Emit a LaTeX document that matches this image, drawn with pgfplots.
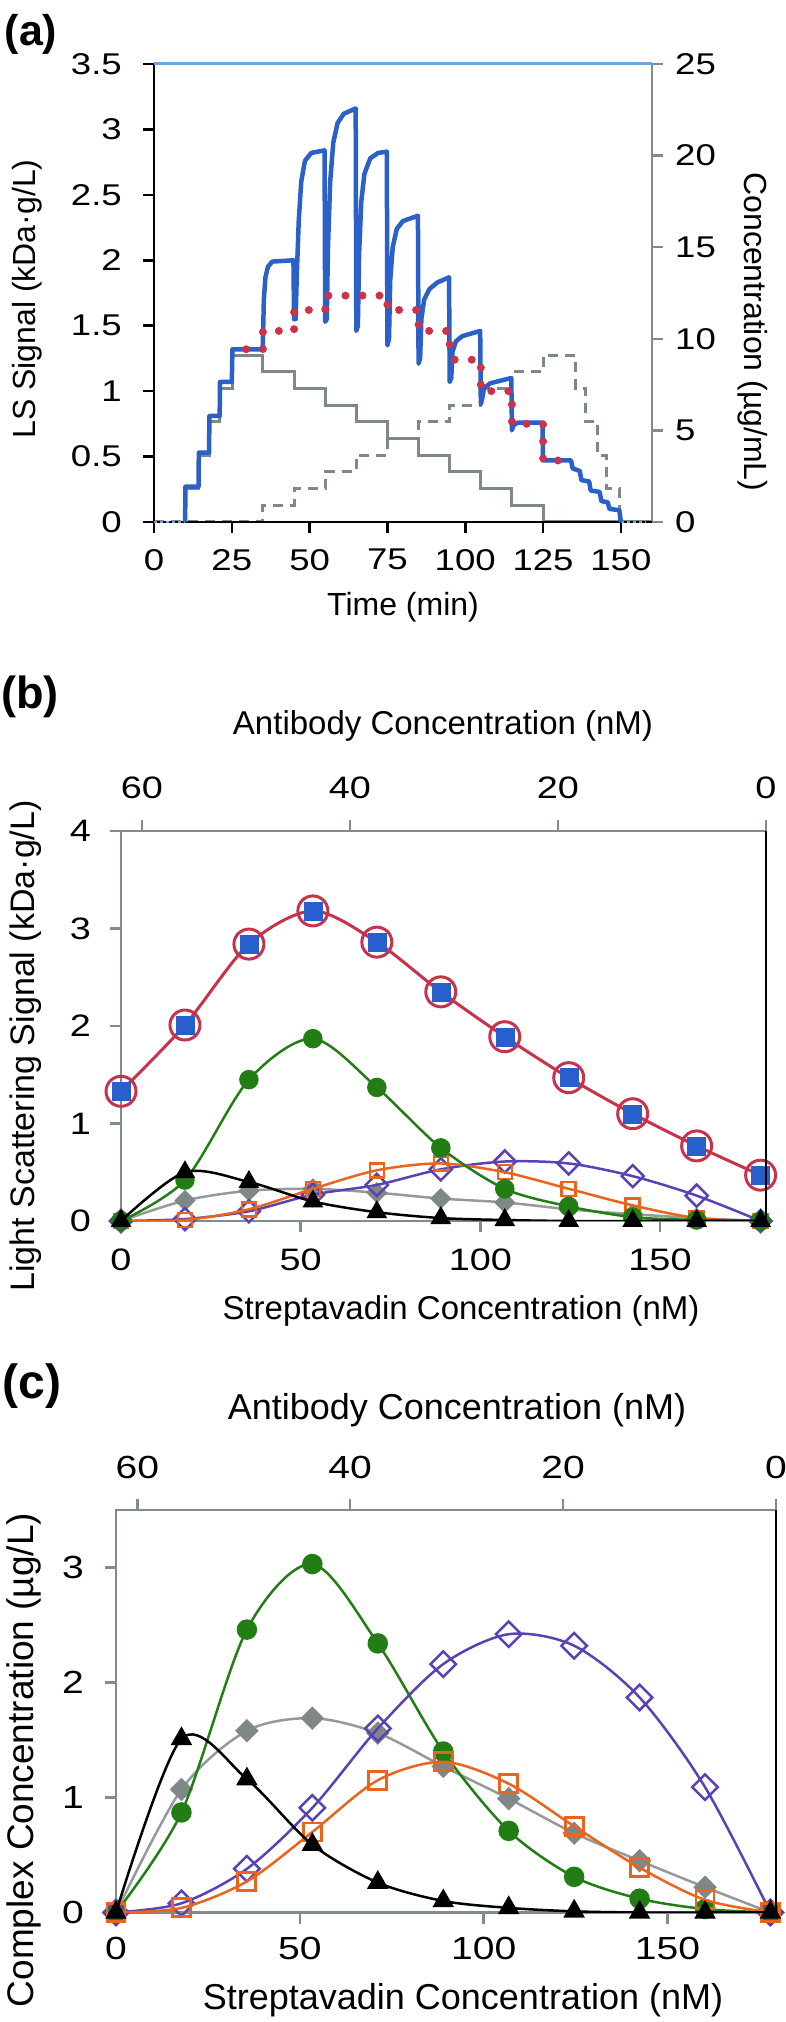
\documentclass[border=0pt]{standalone}
\usepackage{fontspec}
\setmainfont{Liberation Sans}
\newfontfamily\tickfont{Liberation Sans}[FakeStretch=1.22]
\usepackage{pgfplots}
\pgfplotsset{compat=1.18}
\definecolor{grayax}{RGB}{128,140,140}
\definecolor{grayln}{RGB}{125,137,137}
\definecolor{lsblue}{RGB}{42,96,200}
\definecolor{topblue}{RGB}{110,165,225}
\definecolor{dotred}{RGB}{205,50,75}
\definecolor{crim}{RGB}{200,50,75}
\definecolor{sqblue}{RGB}{40,95,205}
\definecolor{mygreen}{RGB}{34,125,20}
\definecolor{dgray}{RGB}{128,135,135}
\definecolor{lgray}{RGB}{148,154,154}
\definecolor{mypurple}{RGB}{90,65,180}
\definecolor{myorange}{RGB}{235,100,30}
\pgfplotsset{
  myax/.style={scale only axis, anchor=south west, tick align=outside,
    major tick length=11pt, /pgf/number format/assume math mode=true},
}
\pgfplotstableread{
x red green black gray purple orange
0     1.33 0    0    0    0    0
17.8  2.01 0.42 0.50 0.21 0.02 0.01
35.6  2.84 1.45 0.40 0.31 0.10 0.12
53.4  3.18 1.87 0.20 0.33 0.27 0.33
71.2  2.86 1.37 0.09 0.29 0.37 0.52
89.0  2.35 0.75 0.03 0.23 0.53 0.59
106.8 1.89 0.33 0.01 0.19 0.61 0.50
124.6 1.47 0.15 0    0.12 0.59 0.33
142.4 1.10 0.04 0    0.07 0.46 0.16
160.2 0.77 0.01 0    0.03 0.26 0.03
178.0 0.47 0    0    0    0    0
}\tabB
\pgfplotstableread{
x green black gray purple orange
0     0    0    0    0    0
17.8  0.87 1.51 1.07 0.08 0.04
35.6  2.46 1.16 1.58 0.38 0.27
53.4  3.03 0.59 1.69 0.91 0.70
71.2  2.34 0.26 1.56 1.60 1.15
89.0  1.40 0.10 1.27 2.16 1.31
106.8 0.71 0.04 0.99 2.42 1.12
124.6 0.31 0.01 0.69 2.32 0.75
142.4 0.12 0    0.45 1.87 0.39
160.2 0.03 0    0.22 1.09 0.11
178.0 0    0    0    0    0
}\tabC
\begin{document}
\begin{tikzpicture}
\path[use as bounding box] (0pt,0pt) rectangle (786pt,2022pt);
%================ (a) right axis: concentrations
\begin{axis}[myax, at={(154pt,1500pt)}, width=498pt, height=458pt,
  xmin=0, xmax=160, ymin=0, ymax=25, clip=false,
  axis x line=none, axis y line*=right,
  y axis line style={-, draw=grayax, line width=2.5pt},
  ytick={0,5,...,25}, ytick style={draw=grayax, line width=2.5pt},
  yticklabel style={font=\tickfont\fontsize{30}{30}\selectfont, anchor=west, inner sep=0pt, xshift=12pt}]
\addplot[grayln, line width=3pt, line join=miter] coordinates {
(10,0)(10,1.82)(14.4,1.82)(14.4,3.64)(17.8,3.64)(17.8,5.46)(21.2,5.46)(21.2,7.28)(25.2,7.28)(25.2,9.1)
(35,9.1)(35,8.19)(45,8.19)(45,7.28)(55,7.28)(55,6.37)(65,6.37)(65,5.46)(75,5.46)(75,4.55)(85,4.55)
(85,3.64)(95,3.64)(95,2.73)(105,2.73)(105,1.82)(115,1.82)(115,0.91)(125,0.91)(125,0)(160,0)};
\addplot[grayln, line width=3pt, dash pattern=on 10pt off 7pt] coordinates {
(0,0)(35,0)(35,0.91)(45,0.91)(45,1.82)(55,1.82)(55,2.73)(65,2.73)(65,3.64)(75,3.64)(75,4.55)(85,4.55)
(85,5.46)(95,5.46)(95,6.37)(105,6.37)(105,7.28)(115,7.28)(115,8.19)(125,8.19)(125,9.1)(135.5,9.1)
(135.5,7.28)(138.7,7.28)(138.7,5.46)(142.4,5.46)(142.4,3.64)(145.5,3.64)(145.5,1.82)(149.5,1.82)(149.5,0)(152,0)};
\end{axis}
%================ (a) left axis: LS signal
\begin{axis}[myax, at={(154pt,1500pt)}, width=498pt, height=458pt,
  xmin=0, xmax=160, ymin=0, ymax=3.5, clip=false,
  axis x line*=bottom, axis y line*=left,
  axis line style={-, draw=black, line width=2.5pt},
  xtick={0,25,...,150}, ytick={0,0.5,...,3.5},
  tick style={draw=black, line width=2.5pt},
  tick label style={font=\tickfont\fontsize{30}{30}\selectfont},
  yticklabel style={anchor=east, inner sep=0pt, xshift=-21pt},
  xticklabel style={anchor=north, inner sep=0pt, yshift=-16pt}]
\addplot[topblue, line width=3pt] coordinates {(0,3.5)(160,3.5)};
\addplot[topblue, line width=2pt, dash pattern=on 3pt off 3pt] coordinates {(0,0)(10,0)};
\addplot[topblue, line width=2pt, dash pattern=on 3pt off 3pt] coordinates {(150,0)(158,0)};
\addplot[lsblue, line width=4.5pt, line join=round] coordinates {
(10,0.0)(10.1,0.27)(14.3,0.27)(14.4,0.53)(17.7,0.53)(17.8,0.81)(21.1,0.81)(21.2,1.07)(25.0,1.07)
(25.2,1.32)(34.9,1.32)
(35.0,1.40)(35.3,1.70)(35.8,1.87)(36.6,1.95)(38.0,1.99)(44.8,2.00)
(45.0,1.55)(45.5,1.55)(45.9,1.90)(46.5,2.30)(47.3,2.60)(48.5,2.76)(50.5,2.82)(54.8,2.84)
(55.0,1.53)(55.5,1.55)(55.9,2.10)(56.6,2.60)(57.6,2.90)(59.0,3.05)(61.0,3.12)(64.8,3.16)
(65.0,1.46)(65.5,1.50)(65.9,2.05)(66.6,2.45)(67.6,2.66)(69.5,2.78)(72,2.82)(74.8,2.83)
(75.0,1.35)(75.5,1.40)(75.9,1.85)(76.7,2.10)(78,2.24)(80,2.30)(84.8,2.34)
(85.0,1.21)(85.5,1.25)(85.9,1.55)(86.8,1.70)(88.5,1.78)(91,1.83)(94.8,1.87)
(95.0,1.07)(95.5,1.10)(95.9,1.30)(97,1.38)(99,1.42)(104.8,1.46)
(105.0,0.90)(105.5,0.95)(106,1.02)(108,1.06)(114.8,1.10)
(115.0,0.70)(115.5,0.74)(117,0.76)(124.8,0.76)
(125.0,0.47)(134.0,0.47)(134.5,0.41)(136.8,0.39)(137.3,0.32)(139.8,0.31)(140.3,0.24)(143.2,0.23)
(143.7,0.16)(145.8,0.15)(146.3,0.10)(149.5,0.09)(150.0,0.0)};
\addplot[dotred, line width=8pt, line cap=round, dash pattern=on 0pt off 17pt] coordinates {
(29.6,1.32)(35,1.32)(35,1.46)(45,1.46)(45,1.62)(55,1.62)(55,1.73)(75,1.73)(75,1.62)(85,1.62)
(85,1.46)(95,1.46)(95,1.30)(96.5,1.24)(105,1.24)(105,1.0)(115,1.0)(115,0.75)(125,0.75)(125,0.47)(130,0.47)};
\end{axis}
\node[font=\bfseries\fontsize{43}{43}\selectfont] at (31pt,1988pt) {(a)};
\node[rotate=90, font=\fontsize{32}{34}\selectfont] at (27pt,1723pt) {LS Signal (kDa·g/L)};
\node[rotate=-90, font=\fontsize{32}{34}\selectfont] at (753pt,1690pt) {Concentration (µg/mL)};
\node[font=\fontsize{32}{34}\selectfont] at (403pt,1415pt) {Time (min)};
%================ (b) top axis
\begin{axis}[myax, at={(121pt,801pt)}, width=645pt, height=390pt,
  xmin=0, xmax=62.0, x dir=reverse, ymin=0, ymax=1,
  axis x line*=top, axis y line=none,
  x axis line style={-, draw=grayax, line width=2.5pt},
  xtick={0,20,40,60}, xtick style={draw=grayax, line width=2.5pt},
  xticklabel style={font=\tickfont\fontsize{31}{31}\selectfont, anchor=south, inner sep=0pt, yshift=21pt}]
\addplot[draw=none] coordinates {(0,0)};
\end{axis}
%================ (b) main axis
\begin{axis}[myax, at={(121pt,801pt)}, width=645pt, height=390pt,
  xmin=0, xmax=179.5, ymin=0, ymax=4, clip mode=individual,
  axis line style={draw=grayax, line width=2.5pt},
  xtick={0,50,100,150}, ytick={0,1,2,3,4}, xtick pos=left, ytick pos=left,
  tick style={draw=grayax, line width=2.5pt},
  tick label style={font=\tickfont\fontsize{31}{31}\selectfont},
  yticklabel style={anchor=east, inner sep=0pt, xshift=-19pt},
  xticklabel style={anchor=north, inner sep=0pt, yshift=-17pt}]
\addplot[smooth, lgray, line width=2.5pt, mark=square*, mark size=7pt, mark options={rotate=45, draw=dgray, fill=dgray, line width=1pt}] table[y=gray] {\tabB};
\addplot[smooth, mypurple, line width=2.5pt, mark=square, mark size=7.8pt, mark options={rotate=45, line width=2.5pt, fill=white}] table[y=purple] {\tabB};
\addplot[smooth, myorange, line width=2.5pt, mark=square, mark size=7pt, mark options={line width=2.5pt, fill=white}] table[y=orange] {\tabB};
\addplot[smooth, mygreen, line width=2.5pt, mark=*, mark size=8.5pt] table[y=green] {\tabB};
\addplot[smooth, black, line width=2.5pt, mark=triangle*, mark size=9.5pt] table[y=black] {\tabB};
\addplot[smooth, crim, line width=3pt, mark=o, mark size=15pt, mark options={line width=3pt}] table[y=red] {\tabB};
\addplot[only marks, sqblue, mark=square*, mark size=9pt] table[y=red] {\tabB};
\draw[black, line width=2.5pt] (rel axis cs:1,0) -- (rel axis cs:1,1);
\end{axis}
\node[font=\bfseries\fontsize{45}{45}\selectfont] at (30pt,1325pt) {(b)};
\node[font=\fontsize{33}{35}\selectfont] at (443pt,1296pt) {Antibody Concentration (nM)};
\node[rotate=90, font=\fontsize{34}{36}\selectfont] at (26pt,976pt) {Light Scattering Signal (kDa·g/L)};
\node[font=\fontsize{33}{35}\selectfont] at (461pt,711pt) {Streptavadin Concentration (nM)};
%================ (c) top axis
\begin{axis}[myax, at={(116pt,109.5pt)}, width=660pt, height=402.5pt,
  xmin=0, xmax=62.0, x dir=reverse, ymin=0, ymax=1,
  axis x line*=top, axis y line=none,
  x axis line style={-, draw=grayax, line width=2.5pt},
  xtick={0,20,40,60}, xtick style={draw=grayax, line width=2.5pt},
  xticklabel style={font=\tickfont\fontsize{32}{32}\selectfont, anchor=south, inner sep=0pt, yshift=19.5pt}]
\addplot[draw=none] coordinates {(0,0)};
\end{axis}
%================ (c) main axis
\begin{axis}[myax, at={(116pt,109.5pt)}, width=660pt, height=402.5pt,
  xmin=0, xmax=179.5, ymin=0, ymax=3.5, clip mode=individual,
  axis line style={draw=grayax, line width=2.5pt},
  xtick={0,50,100,150}, ytick={0,1,2,3}, xtick pos=left, ytick pos=left,
  tick style={draw=grayax, line width=2.5pt},
  tick label style={font=\tickfont\fontsize{32}{32}\selectfont},
  yticklabel style={anchor=east, inner sep=0pt, xshift=-21pt},
  xticklabel style={anchor=north, inner sep=0pt, yshift=-13pt}]
\addplot[smooth, lgray, line width=2.5pt, mark=square*, mark size=7.8pt, mark options={rotate=45, draw=dgray, fill=dgray, line width=1pt}] table[y=gray] {\tabC};
\addplot[smooth, mygreen, line width=2.5pt, mark=*, mark size=9pt] table[y=green] {\tabC};
\addplot[smooth, mypurple, line width=2.5pt, mark=square, mark size=9pt, mark options={rotate=45, line width=2.5pt, fill=white}] table[y=purple] {\tabC};
\addplot[smooth, myorange, line width=2.5pt, mark=square, mark size=9pt, mark options={line width=2.8pt, fill=white}] table[y=orange] {\tabC};
\addplot[smooth, black, line width=2.5pt, mark=triangle*, mark size=10pt] table[y=black] {\tabC};
\draw[black, line width=2.5pt] (rel axis cs:1,0) -- (rel axis cs:1,1);
\end{axis}
\node[font=\bfseries\fontsize{48}{48}\selectfont] at (32pt,636pt) {(c)};
\node[font=\fontsize{36}{38}\selectfont] at (457pt,612pt) {Antibody Concentration (nM)};
\node[rotate=90, font=\fontsize{37}{39}\selectfont] at (24pt,262pt) {Complex Concentration (µg/L)};
\node[font=\fontsize{36}{38}\selectfont] at (463pt,22pt) {Streptavadin Concentration (nM)};
\end{tikzpicture}
\end{document}
